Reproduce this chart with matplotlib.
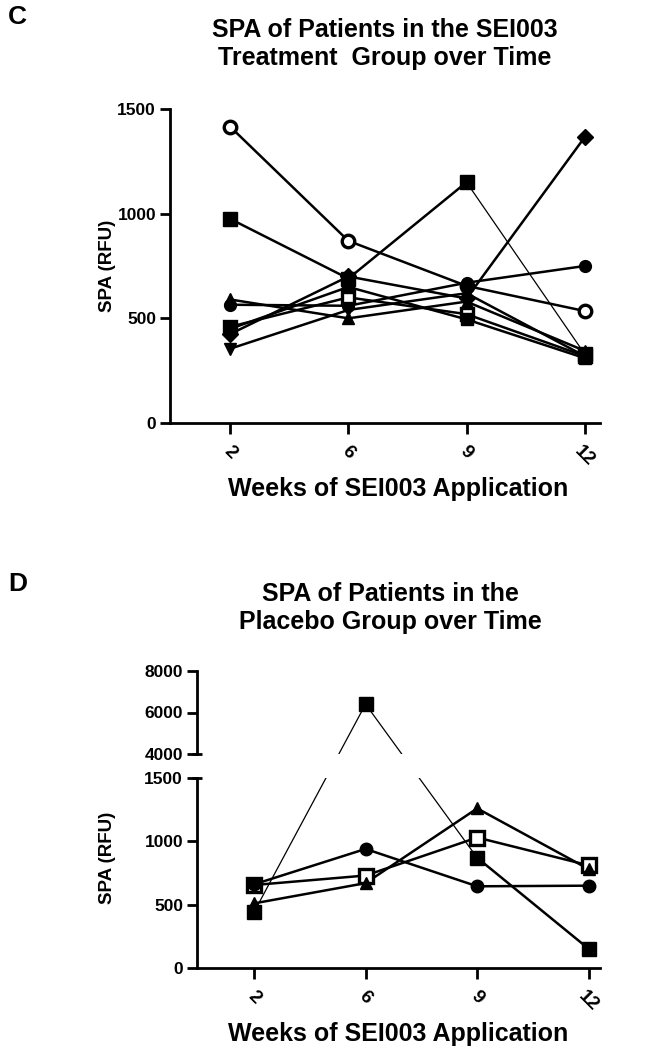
import matplotlib
matplotlib.use('Agg')
import matplotlib.pyplot as plt

plt.rcParams['font.family'] = ['Liberation Sans', 'DejaVu Sans']
plt.rcParams['font.weight'] = 'bold'

weeks = ['2', '6', '9', '12']

# panel C - SEI003 treatment group, one list per patient
trt_open_circle = [1415, 870, 655, 535]
trt_square = [975, 690, 1150, 330]
trt_diamond = [425, 700, 595, 1365]
trt_circle = [565, 560, 670, 750]
trt_tri_up = [590, 500, 580, 345]
trt_tri_down = [355, 540, 620, 320]
trt_open_square = [460, 600, 520, 320]
trt_square2 = [450, 650, 495, 310]

# panel D - placebo group
pla_square = [440, 6400, 870, 150]
pla_open_square = [655, 730, 1030, 810]
pla_circle = [660, 940, 645, 650]
pla_tri_up = [510, 670, 1260, 780]

W, H = 646, 1050
fig = plt.figure(figsize=(W / 100, H / 100), dpi=100)


def rect(left, right, bottom, top):
    # pixel box -> figure fraction
    return [left / W, 1 - bottom / H, (right - left) / W, (bottom - top) / H]


def style_axis(ax, show_x=True):
    for s in ['top', 'right']:
        ax.spines[s].set_visible(False)
    ax.spines['left'].set_linewidth(2)
    ax.tick_params(axis='y', direction='out', length=7, width=2, labelsize=12.5, pad=3)
    if show_x:
        ax.spines['bottom'].set_linewidth(2)
        ax.tick_params(axis='x', direction='out', length=8, width=2, labelsize=13.5, pad=6)
        ax.set_xticks(range(len(weeks)))
        ax.set_xticklabels(weeks, rotation=-45, ha='center', va='top', fontweight='bold')
    else:
        ax.spines['bottom'].set_visible(False)
        ax.set_xticks([])
    for lab in ax.get_yticklabels():
        lab.set_fontweight('bold')


def markers(ax, vals, marker, filled, ms):
    ax.plot(range(len(vals)), vals, ls='none', marker=marker, ms=ms,
            mfc='black' if filled else 'white', mec='black',
            mew=1 if filled else 2.4, clip_on=False, zorder=3)


# ---------------- panel C ----------------
axC = fig.add_axes(rect(170, 600, 423, 109))
axC.set_xlim(-0.51, 3.13)
axC.set_ylim(0, 1500)
axC.set_yticks([0, 500, 1000, 1500])
style_axis(axC)

seriesC = [
    (trt_open_circle, 'o', False, 9, ()),
    (trt_square, 's', True, 10, (2,)),
    (trt_diamond, 'D', True, 8, ()),
    (trt_circle, 'o', True, 8.5, ()),
    (trt_tri_up, '^', True, 9, ()),
    (trt_tri_down, 'v', True, 9, ()),
    (trt_open_square, 's', False, 9, ()),
    (trt_square2, 's', True, 9, ()),
]
for vals, mk, filled, ms, thin in seriesC:
    for i in range(len(vals) - 1):
        axC.plot([i, i + 1], vals[i:i + 2], color='black',
                 lw=0.9 if i in thin else 1.8, solid_capstyle='butt', zorder=2)
    markers(axC, vals, mk, filled, ms)

# ---------------- panel D (broken y axis) ----------------
axLo = fig.add_axes(rect(197, 600, 968, 778))
axHi = fig.add_axes(rect(197, 600, 754, 671))
for ax in (axLo, axHi):
    ax.set_xlim(-0.51, 3.1)
axLo.set_ylim(0, 1500)
axLo.set_yticks([0, 500, 1000, 1500])
axHi.set_ylim(4000, 8000)
axHi.set_yticks([4000, 6000, 8000])
style_axis(axLo)
style_axis(axHi, show_x=False)

# small caps on the spine at the break
for ax, yy in ((axLo, 1.0), (axHi, 0.0)):
    ax.plot([-0.012, 0.012], [yy, yy], transform=ax.transAxes, color='black',
            lw=2, clip_on=False, solid_capstyle='butt')

seriesD = [
    (pla_square, 's', True, 9.5, (0, 1)),
    (pla_open_square, 's', False, 9.5, ()),
    (pla_circle, 'o', True, 9, ()),
    (pla_tri_up, '^', True, 9, ()),
]
inv = fig.transFigure.inverted()


def to_fig(i, v):
    ax = axHi if v > 1500 else axLo
    return inv.transform(ax.transData.transform((i, v)))


for vals, mk, filled, ms, thin in seriesD:
    pts = [to_fig(i, v) for i, v in enumerate(vals)]
    for i in range(len(vals) - 1):
        xs = [pts[i][0], pts[i + 1][0]]
        ys = [pts[i][1], pts[i + 1][1]]
        for ax in (axLo, axHi):
            ax.plot(xs, ys, transform=fig.transFigure, color='black',
                    lw=0.9 if i in thin else 1.8, solid_capstyle='butt', zorder=2)
    lo = [v if v <= 1500 else float('nan') for v in vals]
    hi = [v if v > 1500 else float('nan') for v in vals]
    markers(axLo, lo, mk, filled, ms)
    markers(axHi, hi, mk, filled, ms)

# ---------------- text ----------------
fig.text(8 / W, 1 - 17 / H, 'C', fontsize=19, ha='left', va='center')
fig.text(8 / W, 1 - 584 / H, 'D', fontsize=19, ha='left', va='center')

fig.text(385 / W, 1 - 44 / H, 'SPA of Patients in the SEI003\nTreatment  Group over Time',
         fontsize=18, ha='center', va='center', linespacing=1.25)
fig.text(390 / W, 1 - 608 / H, 'SPA of Patients in the\nPlacebo Group over Time',
         fontsize=18, ha='center', va='center', linespacing=1.25)

fig.text(108 / W, 1 - 266 / H, 'SPA (RFU)', fontsize=13.5, rotation=90, ha='center', va='center')
fig.text(108 / W, 1 - 858 / H, 'SPA (RFU)', fontsize=13.5, rotation=90, ha='center', va='center')

fig.text(398 / W, 1 - 489 / H, 'Weeks of SEI003 Application', fontsize=18, ha='center', va='center')
fig.text(398 / W, 1 - 1034 / H, 'Weeks of SEI003 Application', fontsize=18, ha='center', va='center')

fig.savefig('out.png', dpi=100)
